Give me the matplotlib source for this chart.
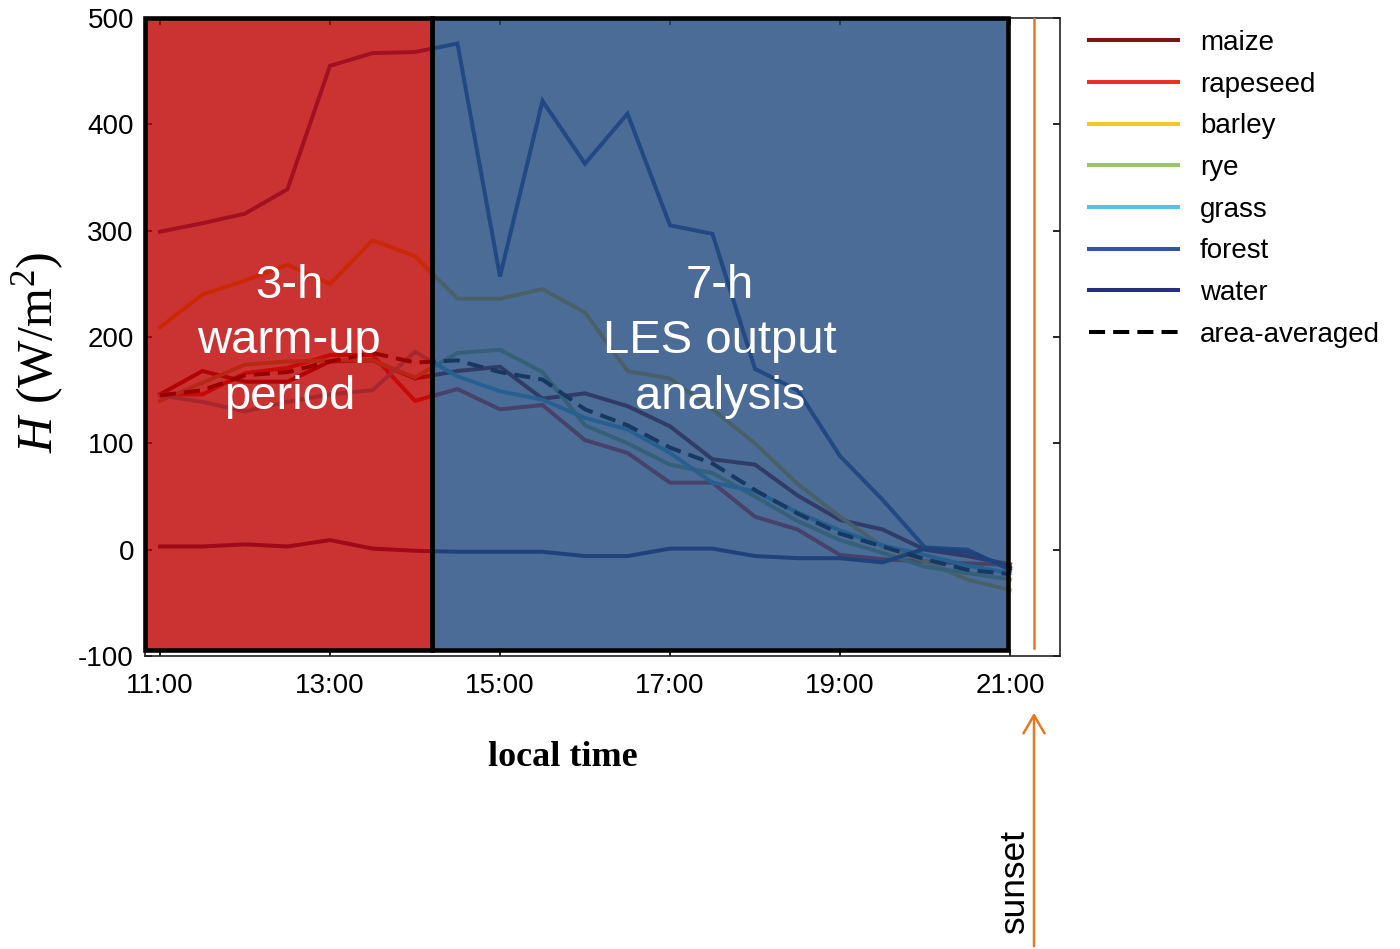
import matplotlib
matplotlib.use("Agg")
import matplotlib.pyplot as plt
from matplotlib.patches import Rectangle, FancyArrowPatch
from matplotlib.lines import Line2D

# ---------------- data ----------------
hours = [11.0, 11.5, 12.0, 12.5, 13.0, 13.5, 14.0, 14.5, 15.0, 15.5, 16.0,
         16.5, 17.0, 17.5, 18.0, 18.5, 19.0, 19.5, 20.0, 20.5, 21.0]
maize = [146, 168, 158, 158, 177, 178, 161, 168, 172, 142, 147,
         135, 116, 85, 80, 51, 28, 19, 0, -6, -14]
rapeseed = [146, 146, 166, 171, 183, 183, 140, 151, 132, 136, 103,
            91, 63, 63, 31, 19, -5, -9, -11, -13, -14]
barley = [209, 240, 253, 268, 250, 291, 276, 236, 236, 245, 223,
          168, 161, 132, 100, 62, 31, 3, -11, -28, -38]
rye = [140, 157, 174, 177, 178, 178, 162, 185, 188, 167, 117,
       100, 80, 72, 50, 27, 9, -3, -16, -22, -28]
grass = [145, 139, 130, 139, 146, 150, 186, 163, 149, 141, 124,
         113, 91, 63, 55, 35, 18, 4, -5, -15, -22]
forest = [299, 307, 316, 339, 455, 467, 468, 476, 257, 422, 363,
          410, 305, 297, 170, 150, 88, 47, 2, 0, -19]
water = [3, 3, 5, 3, 9, 1, -1, -2, -2, -2, -6,
         -6, 1, 1, -6, -8, -8, -12, 1, -2, -17]
area_avg = [145, 150, 164, 167, 177, 185, 176, 178, 167, 160, 132,
            117, 96, 81, 56, 34, 15, 3, -9, -19, -23]

series_names = ["maize", "rapeseed", "barley", "rye", "grass", "forest", "water"]
series_values = [maize, rapeseed, barley, rye, grass, forest, water]
series_colors = ["#7A1416", "#EA3127", "#F6C623", "#97C56E", "#4FC4E3", "#3553A3", "#252F7A"]
avg_label = "area-averaged"

xtick_pos = [11, 13, 15, 17, 19, 21]
xtick_labels = ["11:00", "13:00", "15:00", "17:00", "19:00", "21:00"]
ytick_pos = [-100, 0, 100, 200, 300, 400, 500]

warmup_end = 14.2
analysis_end = 20.98
sunset_hour = 21.28

# ---------------- figure ----------------
W, H = 1400, 949
plt.rcParams['mathtext.fontset'] = 'custom'
plt.rcParams['mathtext.rm'] = 'Liberation Serif'
plt.rcParams['mathtext.it'] = 'Liberation Serif:italic'
plt.rcParams['axes.unicode_minus'] = False
fig = plt.figure(figsize=(W / 100, H / 100), dpi=100)

def fx(px):
    return px / W

def fy(py):
    return 1 - py / H

ax = fig.add_axes([fx(145), fy(656), fx(1060) - fx(145), fy(18) - fy(656)])
xmin, xmax = 10.824, 21.588
ax.set_xlim(xmin, xmax)
ax.set_ylim(-100, 500)

lw = 2.9
for name, vals, col in zip(series_names, series_values, series_colors):
    ax.plot(hours, vals, color=col, lw=lw, zorder=1, solid_joinstyle='miter')
ax.plot(hours, area_avg, color='black', lw=lw, dashes=(4, 2), zorder=1.5)

# translucent period rectangles
ybot = -94
ax.add_patch(Rectangle((xmin, ybot), warmup_end - xmin, 500 - ybot,
                       facecolor=(191 / 255, 0, 0, 0.8), edgecolor='none', zorder=2))
ax.add_patch(Rectangle((warmup_end, ybot), analysis_end - warmup_end, 500 - ybot,
                       facecolor=(30 / 255, 71 / 255, 124 / 255, 0.8), edgecolor='none', zorder=2))
for x0, x1 in [(xmin, warmup_end), (warmup_end, analysis_end)]:
    ax.add_patch(Rectangle((x0, ybot), x1 - x0, 500 - ybot, facecolor='none',
                           edgecolor='black', lw=3.3, zorder=3, clip_on=False))

ax.axvline(sunset_hour, ymin=(ybot + 100) / 600 + 0.003, ymax=1, color='#E8781E', lw=1.8, zorder=3)

ax.text(12.52, 196, "3-h\nwarm-up\nperiod", color='white', fontsize=34,
        family='Liberation Sans', ha='center', va='center', multialignment='center',
        linespacing=1.34, zorder=4)
ax.text(17.59, 196, "7-h\nLES output\nanalysis", color='white', fontsize=34,
        family='Liberation Sans', ha='center', va='center', multialignment='center',
        linespacing=1.34, zorder=4)

ax.set_xticks(xtick_pos)
ax.set_xticklabels(xtick_labels)
ax.set_yticks(ytick_pos)
ax.tick_params(direction='in', length=5, width=1.2, top=True, right=True,
               labelsize=20, color='black')
ax.tick_params(axis='x', pad=12)
ax.tick_params(axis='y', pad=8)
for lab in ax.get_xticklabels() + ax.get_yticklabels():
    lab.set_family('Liberation Sans')
for sp in ax.spines.values():
    sp.set_linewidth(1.2)
    sp.set_color('#222222')

# axis labels
fig.text(fx(38), fy(352), r"$H$ (W/m$^2$)", rotation=90, fontsize=36,
         family='Liberation Serif', ha='center', va='center')
fig.text(fx(563), fy(758), "local time", fontsize=26, fontweight='bold',
         family='Liberation Serif', ha='center', va='center')

# sunset arrow and label
arrow = FancyArrowPatch((fx(1034), fy(949)), (fx(1034), fy(710)),
                        transform=fig.transFigure,
                        arrowstyle='->,head_length=0.65,head_width=0.38',
                        mutation_scale=20, color='#E8781E', lw=1.8)
fig.add_artist(arrow)
fig.text(fx(1014), fy(881), "sunset", rotation=90, fontsize=25.5,
         family='Liberation Sans', ha='center', va='center')

# legend
handles = [Line2D([0], [0], color=c, lw=lw) for c in series_colors]
handles.append(Line2D([0], [0], color='black', lw=lw, dashes=(4, 2)))
labels = series_names + [avg_label]
leg = ax.legend(handles, labels, loc='upper left',
                bbox_to_anchor=(fx(1089), fy(30)), bbox_transform=fig.transFigure,
                frameon=False, prop={'family': 'Liberation Sans', 'size': 20},
                handlelength=3.2, handletextpad=0.8, labelspacing=0.565,
                borderpad=0, borderaxespad=0)

fig.savefig("out.png", dpi=100)
